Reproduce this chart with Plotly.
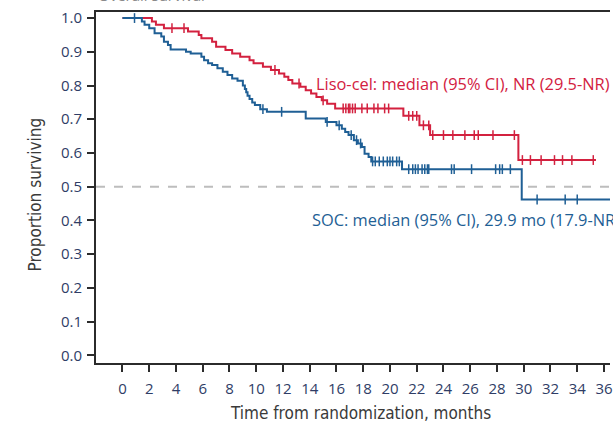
import numpy as np
import plotly.graph_objects as go

# Kaplan-Meier step data: event times (months) and survival after each step
liso_times = [0, 2.2, 2.5, 3.1, 4.9, 5.7, 5.9, 6.7, 7.0, 7.7, 8.2, 8.8, 9.5, 9.8, 10.5,
              11.1, 11.7, 12.1, 12.4, 12.7, 13.3, 13.7, 14.1, 14.5, 14.9, 15.3, 15.9,
              21.0, 22.2, 23.0, 29.6]
liso_surv = [1.0, 0.99, 0.98, 0.97, 0.96, 0.95, 0.94, 0.93, 0.915, 0.905, 0.895, 0.885,
             0.875, 0.866, 0.856, 0.846, 0.836, 0.826, 0.816, 0.806, 0.796, 0.786, 0.776,
             0.766, 0.756, 0.746, 0.732, 0.710, 0.682, 0.653, 0.579]
liso_last = 35.4
liso_censored = [3.7, 4.6, 11.4, 13.2, 15.0, 16.5, 16.7, 16.9, 17.0, 17.2, 17.4, 17.9, 18.3,
                 18.8, 19.1, 19.6, 19.9, 21.4, 21.7, 22.0, 22.5, 22.9, 23.2, 24.0, 24.7,
                 25.6, 26.3, 26.6, 27.7, 29.3, 29.9, 30.5, 31.3, 32.3, 32.9, 33.6, 35.2]

soc_times = [0, 1.45, 1.65, 2.0, 2.4, 2.9, 3.1, 3.4, 3.6, 4.75, 5.1, 5.9, 6.1, 6.4, 6.7,
             7.1, 7.5, 7.85, 8.2, 8.6, 9.0, 9.15, 9.25, 9.35, 9.5, 9.7, 9.9, 10.3, 10.8,
             13.7, 15.2, 16.0, 16.4, 16.65, 16.9, 17.3, 17.6, 17.9, 18.1, 18.4, 18.6,
             20.9, 29.85]
soc_surv = [1.0, 0.99, 0.98, 0.97, 0.955, 0.945, 0.93, 0.92, 0.907, 0.90, 0.895, 0.885,
            0.875, 0.866, 0.861, 0.851, 0.841, 0.831, 0.821, 0.814, 0.80, 0.79, 0.78, 0.77,
            0.76, 0.75, 0.742, 0.73, 0.722, 0.702, 0.692, 0.682, 0.672, 0.662, 0.653,
            0.638, 0.628, 0.618, 0.598, 0.588, 0.575, 0.552, 0.462]
soc_last = 37.5
soc_censored = [0.9, 10.5, 11.9, 15.3, 16.2, 17.1, 17.5, 17.8, 18.7, 18.9, 19.2, 19.5,
                19.8, 20.0, 20.2, 20.5, 20.7, 21.4, 21.7, 21.9, 22.1, 22.4, 22.6, 22.8,
                22.9, 24.6, 24.8, 26.1, 27.9, 28.2, 28.4, 29.0, 31.0, 33.1, 34.0]

x_ticks = list(range(0, 37, 2))
y_ticks = [round(0.1 * i, 1) for i in range(11)]

liso_label = "Liso-cel: median (95% CI), NR (29.5-NR)"
soc_label = "SOC: median (95% CI), 29.9 mo (17.9-NR)"

RED = "#d3213f"
BLUE = "#1f5f95"
TICK_COLOR = "#2f3d66"
AXIS_COLOR = "#2b2b2b"
NARROW = "Liberation Sans Narrow, DejaVu Sans Condensed, Arial Narrow, sans-serif"
BODY = "Open Sans, Noto Sans, sans-serif"


def surv_at(times, surv, t):
    idx = np.searchsorted(np.asarray(times), np.asarray(t), side="right") - 1
    return np.asarray(surv)[idx]


fig = go.Figure()

for times, surv, last, cens, color in [
    (liso_times, liso_surv, liso_last, liso_censored, RED),
    (soc_times, soc_surv, soc_last, soc_censored, BLUE),
]:
    fig.add_trace(go.Scatter(
        x=list(times) + [last], y=list(surv) + [surv[-1]],
        mode="lines", line=dict(color=color, width=2, shape="hv"),
        hoverinfo="skip", showlegend=False,
    ))
    fig.add_trace(go.Scatter(
        x=cens, y=surv_at(times, surv, cens),
        mode="markers",
        marker=dict(symbol="line-ns-open", size=7, color=color,
                    line=dict(color=color, width=1.5)),
        hoverinfo="skip", showlegend=False,
    ))

# median reference line
fig.add_hline(y=0.5, line=dict(color="#bdbdbd", width=2, dash="dash"), layer="below")

fig.add_annotation(x=14.35, y=0.805, xref="x", yref="y", text=liso_label,
                   showarrow=False, xanchor="left", yanchor="middle",
                   font=dict(family=BODY, size=16.4, color=RED))
fig.add_annotation(x=14.0, y=0.404, xref="x", yref="y", text=soc_label,
                   showarrow=False, xanchor="left", yanchor="middle",
                   font=dict(family=BODY, size=16.4, color=BLUE))

# panel heading, mostly above the visible area
fig.add_annotation(x=0.0, y=1, xref="paper", yref="paper", yshift=5,
                   text="Overall survival", showarrow=False,
                   xanchor="left", yanchor="bottom",
                   font=dict(family=BODY, size=15, color="#8a8a8a"))

# axis titles
fig.add_annotation(x=0.5145, y=0, xref="paper", yref="paper", yshift=-50,
                   text="Time from randomization, months", showarrow=False,
                   xanchor="center", yanchor="middle",
                   font=dict(family=NARROW, size=17, color="#3a3a3a"))
fig.add_annotation(x=0, y=0.48, xref="paper", yref="paper", xshift=-61,
                   text="Proportion surviving", textangle=-90, showarrow=False,
                   xanchor="center", yanchor="middle",
                   font=dict(family=NARROW, size=17, color="#3a3a3a"))

fig.update_xaxes(
    range=[-1.98, 36.45], tickvals=x_ticks, ticktext=[str(v) for v in x_ticks],
    showline=True, linecolor=AXIS_COLOR, linewidth=2, mirror=True,
    ticks="outside", ticklen=7, tickwidth=2, tickcolor=AXIS_COLOR,
    showgrid=False, zeroline=False, ticklabelstandoff=4,
    ticklabeloverflow="allow",
    tickfont=dict(family=BODY, size=15, color=TICK_COLOR),
)
fig.update_yaxes(
    range=[-0.0228, 1.018], tickvals=y_ticks, tickformat=".1f",
    showline=True, linecolor=AXIS_COLOR, linewidth=2,
    ticks="outside", ticklen=7, tickwidth=2, tickcolor=AXIS_COLOR,
    showgrid=False, zeroline=False, ticklabelstandoff=2,
    tickfont=dict(family=BODY, size=15, color=TICK_COLOR),
)

fig.update_layout(
    width=613, height=425,
    margin=dict(l=96, r=0, t=12, b=62),
    plot_bgcolor="white", paper_bgcolor="white",
)

fig.write_html("out.html")
